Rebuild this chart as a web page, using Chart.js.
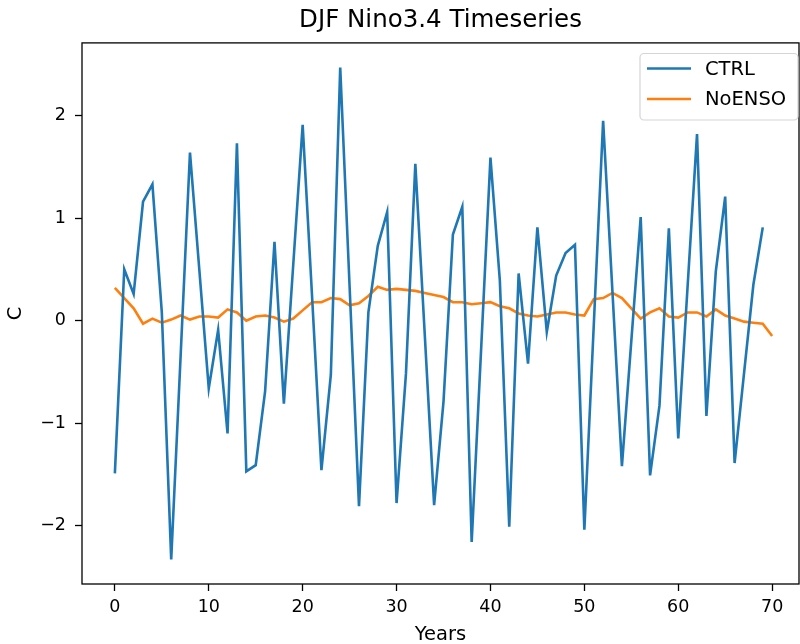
<!DOCTYPE html>
<html>
<head>
<meta charset="utf-8">
<script src="https://cdn.jsdelivr.net/npm/chart.js@4.4.1/dist/chart.umd.min.js"></script>
<style>
  html, body { margin: 0; padding: 0; background: #fff; }
  canvas { display: block; }
</style>
</head>
<body>
<canvas id="ninoChart" width="800" height="644"></canvas>
<script>
// DJF Nino3.4 index per model year
const years = [
  0, 1, 2, 3, 4, 5, 6, 7, 8, 9,
  10, 11, 12, 13, 14, 15, 16, 17, 18, 19,
  20, 21, 22, 23, 24, 25, 26, 27, 28, 29,
  30, 31, 32, 33, 34, 35, 36, 37, 38, 39,
  40, 41, 42, 43, 44, 45, 46, 47, 48, 49,
  50, 51, 52, 53, 54, 55, 56, 57, 58, 59,
  60, 61, 62, 63, 64, 65, 66, 67, 68, 69,
  70,
];

const ctrl = [
  -1.49, 0.50, 0.26, 1.16, 1.33, 0.08, -2.33, -0.35, 1.64, 0.49,
  -0.66, -0.09, -1.10, 1.73, -1.47, -1.41, -0.69, 0.77, -0.81, 0.55,
  1.91, 0.24, -1.46, -0.53, 2.47, 0.33, -1.81, 0.08, 0.73, 1.06,
  -1.78, -0.52, 1.53, -0.13, -1.80, -0.79, 0.84, 1.11, -2.16, -0.29,
  1.59, 0.39, -2.01, 0.46, -0.42, 0.91, -0.11, 0.44, 0.66, 0.74,
  -2.04, -0.05, 1.95, 0.27, -1.42, -0.20, 1.01, -1.51, -0.83, 0.90,
  -1.15, 0.34, 1.82, -0.93, 0.48, 1.21, -1.39, -0.52, 0.35, 0.91,
];

const noEnso = [
  0.32, 0.22, 0.12, -0.03, 0.02, -0.02, 0.01, 0.05, 0.01, 0.04,
  0.04, 0.03, 0.11, 0.08, 0.00, 0.04, 0.05, 0.03, -0.01, 0.02,
  0.10, 0.18, 0.18, 0.22, 0.21, 0.15, 0.17, 0.24, 0.33, 0.30,
  0.31, 0.30, 0.29, 0.27, 0.25, 0.23, 0.18, 0.18, 0.16, 0.17,
  0.18, 0.14, 0.12, 0.07, 0.05, 0.04, 0.06, 0.08, 0.08, 0.06,
  0.05, 0.21, 0.22, 0.27, 0.22, 0.12, 0.02, 0.08, 0.12, 0.04,
  0.03, 0.08, 0.08, 0.04, 0.11, 0.05, 0.02, -0.01, -0.02, -0.03,
  -0.15,
];

const xTicks = [0, 10, 20, 30, 40, 50, 60, 70];
const yTicks = [-2, -1, 0, 1, 2];

const FONT = "'DejaVu Sans', sans-serif";

function toPoints(values) {
  return values.map((v, i) => ({ x: years[i], y: v }));
}

// axes frame on all four sides
const frame = {
  id: "frame",
  afterDatasetsDraw(chart) {
    const { ctx, chartArea: a } = chart;
    ctx.save();
    ctx.strokeStyle = "#000";
    ctx.lineWidth = 1.3;
    ctx.strokeRect(a.left, a.top, a.right - a.left, a.bottom - a.top);
    ctx.restore();
  },
};

// boxed legend in the upper right corner
const boxLegend = {
  id: "boxLegend",
  afterDraw(chart) {
    const { ctx } = chart;
    const x = 640, y = 53.5, w = 158, h = 66.5;
    ctx.save();
    ctx.beginPath();
    ctx.roundRect(x, y, w, h, 4);
    ctx.fillStyle = "rgba(255,255,255,0.8)";
    ctx.fill();
    ctx.strokeStyle = "#d5d5d5";
    ctx.lineWidth = 1.2;
    ctx.stroke();
    ctx.font = "19.5px " + FONT;
    ctx.textBaseline = "middle";
    ctx.fillStyle = "#000";
    chart.data.datasets.forEach((ds, i) => {
      const ly = 68.5 + i * 30.5;
      ctx.beginPath();
      ctx.moveTo(647, ly);
      ctx.lineTo(691, ly);
      ctx.strokeStyle = ds.borderColor;
      ctx.lineWidth = ds.borderWidth;
      ctx.stroke();
      ctx.fillText(ds.label, 705, ly + 1);
    });
    ctx.restore();
  },
};

const axisCommon = {
  type: "linear",
  border: { display: false },
  grid: {
    display: true,
    drawOnChartArea: false,
    drawTicks: true,
    tickLength: 7,
    tickColor: "#000",
    tickWidth: 1.3,
  },
};

new Chart(document.getElementById("ninoChart"), {
  type: "line",
  data: {
    datasets: [
      {
        label: "CTRL",
        data: toPoints(ctrl),
        borderColor: "#1f77b4",
        borderWidth: 2.6,
        pointRadius: 0,
        tension: 0,
        fill: false,
      },
      {
        label: "NoENSO",
        data: toPoints(noEnso),
        borderColor: "#ff7f0e",
        borderWidth: 2.6,
        pointRadius: 0,
        tension: 0,
        fill: false,
      },
    ],
  },
  plugins: [frame, boxLegend],
  options: {
    responsive: false,
    devicePixelRatio: 1,
    animation: false,
    layout: { padding: { left: 0, right: 1, top: 0, bottom: 0 } },
    plugins: {
      legend: { display: false },
      tooltip: { enabled: false },
      title: {
        display: true,
        fullSize: false,
        text: "DJF Nino3.4 Timeseries",
        color: "#000",
        font: { family: FONT, size: 24.5, weight: "normal" },
        padding: { top: 6, bottom: 7.5 },
      },
    },
    scales: {
      x: {
        ...axisCommon,
        min: -3.5,
        max: 72.86,
        afterBuildTicks: (s) => {
          s.ticks = xTicks.map((v) => ({ value: v }));
        },
        afterFit: (s) => {
          s.height = 60;
        },
        ticks: {
          autoSkip: false,
          maxRotation: 0,
          padding: 6,
          color: "#000",
          font: { family: FONT, size: 17.5 },
        },
        title: {
          display: true,
          text: "Years",
          color: "#000",
          font: { family: FONT, size: 19.5 },
          padding: { top: 0, bottom: -3 },
        },
      },
      y: {
        ...axisCommon,
        min: -2.57,
        max: 2.71,
        afterBuildTicks: (s) => {
          s.ticks = yTicks.map((v) => ({ value: v }));
        },
        afterFit: (s) => {
          s.width = 82;
        },
        ticks: {
          autoSkip: false,
          padding: 9,
          color: "#000",
          font: { family: FONT, size: 17.5 },
          callback: (v) => (v < 0 ? "\u2212" + Math.abs(v) : String(v)),
        },
        title: {
          display: true,
          text: "C",
          color: "#000",
          font: { family: FONT, size: 19.5 },
          padding: { top: 4, bottom: 0 },
        },
      },
    },
  },
});
</script>
</body>
</html>
